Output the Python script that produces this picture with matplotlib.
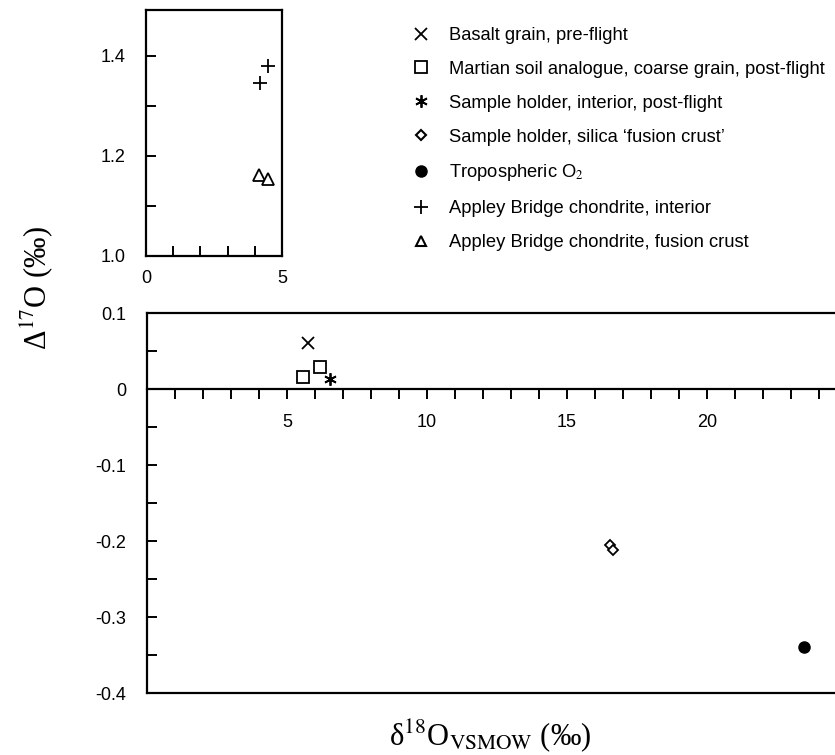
import matplotlib
matplotlib.use('Agg')
import matplotlib.pyplot as plt
from matplotlib.ticker import MultipleLocator, FixedLocator
from matplotlib.lines import Line2D

plt.rcParams['font.family'] = ['Liberation Sans', 'DejaVu Sans']
plt.rcParams['mathtext.fontset'] = 'stix'

# main panel data (d18O, D17O)
basalt_x = [5.75]
basalt_y = [0.060]
soil_x = [5.57, 6.18]
soil_y = [0.016, 0.029]
holder_x = [6.54]
holder_y = [0.013]
crust_x = [16.54, 16.64]
crust_y = [-0.205, -0.212]
tropo_x = [23.46]
tropo_y = [-0.340]

# inset data (Appley Bridge)
ab_int_x = [4.19, 4.47]
ab_int_y = [1.346, 1.380]
ab_fc_x = [4.15, 4.47]
ab_fc_y = [1.162, 1.154]

labels = ['Basalt grain, pre-flight',
          'Martian soil analogue, coarse grain, post-flight',
          'Sample holder, interior, post-flight',
          "Sample holder, silica \u2018fusion crust\u2019",
          'Tropospheric O$_2$',
          'Appley Bridge chondrite, interior',
          'Appley Bridge chondrite, fusion crust']

W, H = 835, 755
fig = plt.figure(figsize=(W / 100, H / 100), dpi=100)

lw = 1.6
tick_fs = 13

# main axes
ax = fig.add_axes([147 / W, 1 - 693 / H, 1 - 147 / W, (693 - 313) / H])
ax.set_xlim(0, 24.57)
ax.set_ylim(-0.4, 0.1)
ax.spines['right'].set_visible(False)
ax.spines['bottom'].set_position(('data', 0))
for s in ['left', 'top', 'bottom']:
    ax.spines[s].set_linewidth(lw)
ax.axhline(-0.4, color='black', lw=lw, clip_on=False)

ax.xaxis.set_major_locator(FixedLocator([5, 10, 15, 20]))
ax.xaxis.set_minor_locator(FixedLocator([i for i in range(1, 25) if i % 5]))
ax.set_xticklabels(['5', '10', '15', '20'])
ax.tick_params(axis='x', which='both', direction='out', length=7, width=1.4,
               labelsize=tick_fs, pad=11)
ax.yaxis.set_major_locator(FixedLocator([0.1, 0, -0.1, -0.2, -0.3, -0.4]))
ax.yaxis.set_minor_locator(MultipleLocator(0.05))
ax.set_yticklabels(['0.1', '0', '-0.1', '-0.2', '-0.3', '-0.4'])
ax.tick_params(axis='y', which='both', direction='in', length=7, width=1.4,
               labelsize=tick_fs, pad=15)

ms = 8
ax.plot(basalt_x, basalt_y, 'x', color='black', ms=ms, mew=1.3)
ax.plot(soil_x, soil_y, 's', mfc='white', mec='black', ms=ms, mew=1.3)
ax.plot(holder_x, holder_y, marker=(6, 2, 0), ls='none', color='black', ms=ms + 1, mew=1.3)
ax.plot(crust_x, crust_y, 'D', mfc='white', mec='black', ms=5.5, mew=1.3)
ax.plot(tropo_x, tropo_y, 'o', color='black', ms=ms)

# inset axes
ax2 = fig.add_axes([146 / W, 1 - 256 / H, (282 - 146) / W, (256 - 10) / H])
ax2.set_xlim(0, 5)
ax2.set_ylim(1.0, 1.492)
for s in ax2.spines.values():
    s.set_linewidth(lw)
ax2.xaxis.set_major_locator(FixedLocator([0, 5]))
ax2.xaxis.set_minor_locator(FixedLocator([1, 2, 3, 4]))
ax2.set_xticklabels(['0', '5'])
ax2.yaxis.set_major_locator(FixedLocator([1.0, 1.2, 1.4]))
ax2.yaxis.set_minor_locator(FixedLocator([1.1, 1.3]))
ax2.set_yticklabels(['1.0', '1.2', '1.4'])
ax2.tick_params(which='both', direction='in', length=7, width=1.4,
                labelsize=tick_fs)
ax2.tick_params(axis='x', which='major', length=0, pad=10)
ax2.tick_params(axis='y', pad=15)
ax2.plot(ab_int_x, ab_int_y, '+', color='black', ms=10, mew=1.3)
ax2.plot(ab_fc_x, ab_fc_y, '^', mfc='white', mec='black', ms=8, mew=1.3)

# legend
handles = [
    Line2D([], [], ls='none', marker='x', color='black', ms=ms, mew=1.3),
    Line2D([], [], ls='none', marker='s', mfc='white', mec='black', ms=ms + 1, mew=1.3),
    Line2D([], [], ls='none', marker=(6, 2, 0), color='black', ms=ms + 1, mew=1.3),
    Line2D([], [], ls='none', marker='D', mfc='white', mec='black', ms=5.5, mew=1.5),
    Line2D([], [], ls='none', marker='o', color='black', ms=ms),
    Line2D([], [], ls='none', marker='+', color='black', ms=10, mew=1.3),
    Line2D([], [], ls='none', marker='^', mfc='white', mec='black', ms=7, mew=1.5),
]
fig.legend(handles, labels, loc='upper left', bbox_to_anchor=(412 / W, 1 - 27 / H),
           frameon=False, fontsize=13.2, handlelength=1.0, handletextpad=1.0,
           labelspacing=0.92, borderaxespad=0, borderpad=0)

# axis labels
fig.text(490 / W, 1 - 736 / H, 'δ$^{18}$O$_{\\mathrm{VSMOW}}$ (‰)',
         family='Liberation Serif', fontsize=22, ha='center', va='center')
fig.text(37 / W, 1 - 288 / H, 'Δ$^{17}$O (‰)', family='Liberation Serif',
         fontsize=22, rotation=90, ha='center', va='center')

fig.savefig('out.png', dpi=100)
